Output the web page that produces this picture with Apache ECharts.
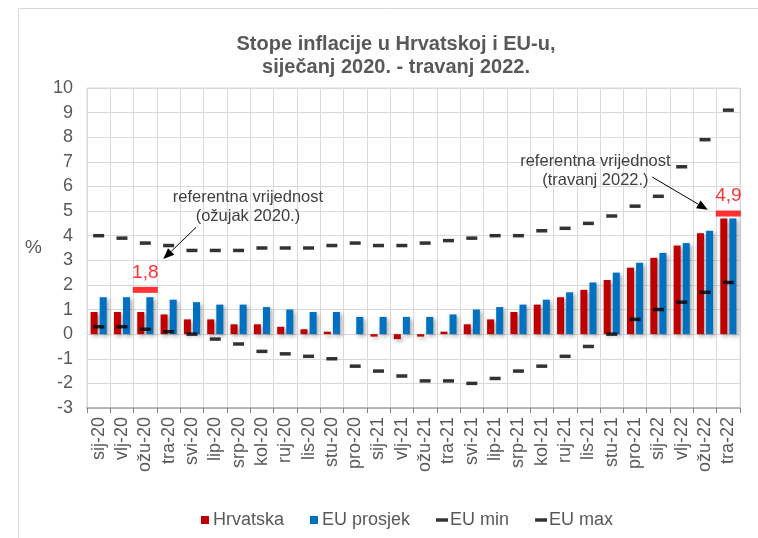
<!DOCTYPE html>
<html>
<head>
<meta charset="utf-8">
<script src="https://cdn.jsdelivr.net/npm/echarts@6/dist/echarts.min.js"></script>
<style>
  html, body { margin: 0; padding: 0; background: #fff; }
  #chart { width: 758px; height: 538px; }
</style>
</head>
<body>
<div id="chart"></div>
<script>
// Stope inflacije u Hrvatskoj i EU-u - monthly, sij-20 .. tra-22
const months = ['sij-20', 'vlj-20', 'ožu-20', 'tra-20', 'svi-20', 'lip-20', 'srp-20', 'kol-20',
  'ruj-20', 'lis-20', 'stu-20', 'pro-20', 'sij-21', 'vlj-21', 'ožu-21', 'tra-21', 'svi-21',
  'lip-21', 'srp-21', 'kol-21', 'ruj-21', 'lis-21', 'stu-21', 'pro-21', 'sij-22', 'vlj-22',
  'ožu-22', 'tra-22'];
const hrvatska = [0.9, 0.9, 0.9, 0.8, 0.6, 0.6, 0.4, 0.4, 0.3, 0.2, 0.1, 0.0, -0.1, -0.2,
  -0.1, 0.1, 0.4, 0.6, 0.9, 1.2, 1.5, 1.8, 2.2, 2.7, 3.1, 3.6, 4.1, 4.7];
const euProsjek = [1.5, 1.5, 1.5, 1.4, 1.3, 1.2, 1.2, 1.1, 1.0, 0.9, 0.9, 0.7, 0.7, 0.7,
  0.7, 0.8, 1.0, 1.1, 1.2, 1.4, 1.7, 2.1, 2.5, 2.9, 3.3, 3.7, 4.2, 4.7];
const euMin = [0.3, 0.3, 0.2, 0.1, 0.0, -0.2, -0.4, -0.7, -0.8, -0.9, -1.0, -1.3, -1.5, -1.7,
  -1.9, -1.9, -2.0, -1.8, -1.5, -1.3, -0.9, -0.5, 0.0, 0.6, 1.0, 1.3, 1.7, 2.1];
const euMax = [4.0, 3.9, 3.7, 3.6, 3.4, 3.4, 3.4, 3.5, 3.5, 3.5, 3.6, 3.7, 3.6, 3.6,
  3.7, 3.8, 3.9, 4.0, 4.0, 4.2, 4.3, 4.5, 4.8, 5.2, 5.6, 6.8, 7.9, 9.1];
// reference values (only two months carry one)
const refMonths = ['ožu-20', 'tra-22'];
const refValues = [1.8, 4.9];
const refLabels = ['1,8', '4,9'];

// callouts: [category index, value] of text centre, arrow start, arrow tip
const notes = [
  { text: 'referentna vrijednost\n(ožujak 2020.)', at: [6.4, 5.15], from: [4.18, 4.34], to: [2.77, 3.05] },
  { text: 'referentna vrijednost\n(travanj 2022.)', at: [21.3, 6.65], from: [23.74, 6.38], to: [26.12, 5.05] },
];

const FONT = '"Liberation Sans", Arial, sans-serif';
const GREY = '#595959';
const GRID_LINE = '#d9d9d9';

const chart = echarts.init(document.getElementById('chart'), null, { renderer: 'canvas' });

const barShadow = { shadowBlur: 4, shadowOffsetX: 2, shadowOffsetY: 2, shadowColor: 'rgba(0,0,0,0.35)' };
const squareIcon = 'path://M0,0h8v8h-8z';
const dashIcon = 'path://M0,0h12v3.5h-12z';

chart.setOption({
  animation: false,
  textStyle: { fontFamily: FONT },
  title: {
    text: 'Stope inflacije u Hrvatskoj i EU-u,\nsiječanj 2020. - travanj 2022.',
    left: 391, top: 28, textAlign: 'center',
    textStyle: { fontFamily: FONT, fontSize: 20, fontWeight: 'bold', color: GREY, lineHeight: 23 },
  },
  legend: {
    left: 196, top: 506, itemGap: 26, itemWidth: 12, itemHeight: 8,
    textStyle: { fontFamily: FONT, fontSize: 18, color: GREY, padding: [0, 0, 0, -3] },
    data: [
      { name: 'Hrvatska', icon: squareIcon },
      { name: 'EU prosjek', icon: squareIcon },
      { name: 'EU min', icon: dashIcon },
      { name: 'EU max', icon: dashIcon },
    ],
  },
  grid: { left: 87, right: 18, top: 88, bottom: 130, show: true, borderColor: GRID_LINE, borderWidth: 1 },
  xAxis: [
    {
      type: 'category', data: months, position: 'bottom',
      axisLine: { show: false }, axisTick: { show: false },
      axisLabel: { rotate: 90, fontSize: 18, color: GREY, margin: 9, interval: 0 },
      splitLine: { show: true, interval: 0, lineStyle: { color: GRID_LINE, width: 1 } },
    },
    {
      type: 'category', data: months, position: 'bottom',
      axisLine: { show: true, onZero: true, lineStyle: { color: '#a6a6a6', width: 1.5 } },
      axisTick: { show: true, length: 5, interval: 0, lineStyle: { color: '#808080' } },
      axisLabel: { show: false }, splitLine: { show: false },
    },
  ],
  yAxis: {
    type: 'value', min: -3, max: 10, interval: 1,
    name: '%', nameLocation: 'middle', nameRotate: 0, nameGap: 45,
    nameTextStyle: { fontFamily: FONT, fontSize: 19, color: GREY },
    axisLine: { show: false }, axisTick: { show: false },
    axisLabel: { fontSize: 18, color: GREY, margin: 14 },
    splitLine: { lineStyle: { color: GRID_LINE, width: 1 } },
  },
  series: [
    {
      name: 'Hrvatska', type: 'bar', data: hrvatska, barWidth: 7, barGap: '30%',
      itemStyle: Object.assign({ color: '#c00000' }, barShadow),
    },
    {
      name: 'EU prosjek', type: 'bar', data: euProsjek, barWidth: 7,
      itemStyle: Object.assign({ color: '#0070c0' }, barShadow),
    },
    {
      name: 'EU min', type: 'scatter', data: euMin, symbol: 'rect', symbolSize: [11, 3.5],
      itemStyle: { color: '#000' }, z: 5,
    },
    {
      name: 'EU max', type: 'scatter', data: euMax, symbol: 'rect', symbolSize: [11, 3.5],
      itemStyle: { color: '#000' }, z: 5,
    },
    {
      name: 'referentna vrijednost', type: 'scatter', symbol: 'rect', symbolSize: [25, 6],
      itemStyle: { color: '#ff0000' }, z: 6,
      data: refMonths.map((m, i) => ({ value: [m, refValues[i]], label: { formatter: refLabels[i] } })),
      label: { show: true, position: 'top', distance: 5, color: '#ff0000', fontSize: 19, fontFamily: FONT },
    },
  ],
});

// place the callout texts and arrows through the axes' own scales
function toPx(idx, val) {
  const x0 = chart.convertToPixel({ xAxisIndex: 0 }, months[0]);
  const x1 = chart.convertToPixel({ xAxisIndex: 0 }, months[1]);
  return [x0 + idx * (x1 - x0), chart.convertToPixel({ yAxisIndex: 0 }, val)];
}

const graphics = [
  // outer chart frame (the reference is cropped on the right and bottom)
  { type: 'rect', shape: { x: 18.5, y: 8.5, width: 800, height: 600 }, style: { fill: null, stroke: GRID_LINE, lineWidth: 1 }, silent: true, z: -1 },
];
notes.forEach(n => {
  const c = toPx(n.at[0], n.at[1]);
  const a = toPx(n.from[0], n.from[1]);
  const b = toPx(n.to[0], n.to[1]);
  graphics.push({
    type: 'text', x: c[0], y: c[1], z: 10,
    style: { text: n.text, fontFamily: FONT, fontSize: 16.5, fill: '#404040', align: 'center', verticalAlign: 'middle', lineHeight: 19 },
  });
  const ang = Math.atan2(b[1] - a[1], b[0] - a[0]);
  const len = 11, half = 4.5;
  const bx = b[0] - len * Math.cos(ang), by = b[1] - len * Math.sin(ang);
  graphics.push({
    type: 'line', z: 10, shape: { x1: a[0], y1: a[1], x2: bx, y2: by },
    style: { stroke: '#000', lineWidth: 1 },
  });
  graphics.push({
    type: 'polygon', z: 10,
    shape: { points: [b, [bx + half * Math.sin(ang), by - half * Math.cos(ang)], [bx - half * Math.sin(ang), by + half * Math.cos(ang)]] },
    style: { fill: '#000' },
  });
});
chart.setOption({ graphic: graphics });
</script>
</body>
</html>
